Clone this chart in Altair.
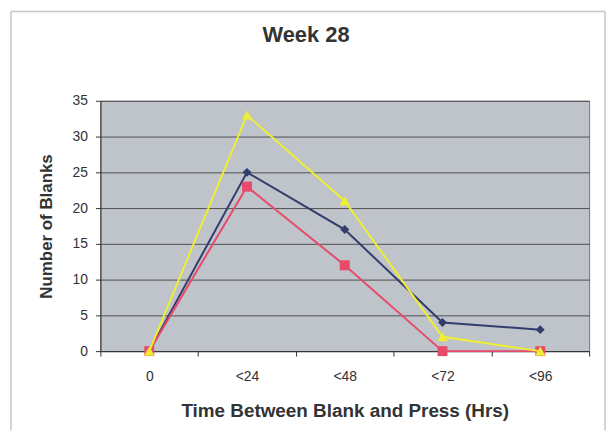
import altair as alt
import pandas as pd

categories = ["0", "<24", "<48", "<72", "<96"]
series_names = ["Series 1", "Series 2", "Series 3"]
series_1 = [0, 25, 17, 4, 3]
series_2 = [0, 23, 12, 0, 0]
series_3 = [0, 33, 21, 2, 0]
y_ticks = [0, 5, 10, 15, 20, 25, 30, 35]

colors = ["#323d6e", "#e84a6b", "#eeee33"]
shapes = ["diamond", "square", "triangle-up"]
sizes = [80, 100, 110]

FONT = "Liberation Sans"
W, H = 492, 252

rows = []
for name, vals in zip(series_names, [series_1, series_2, series_3]):
    for c, v in zip(categories, vals):
        rows.append({"time": c, "blanks": v, "series": name})
df = pd.DataFrame(rows)

x_enc = alt.X(
    "time:N",
    sort=categories,
    scale=alt.Scale(type="band", paddingInner=0, paddingOuter=0),
    axis=alt.Axis(
        title="Time Between Blank and Press (Hrs)",
        labelAngle=0,
        grid=False,
        tickBand="extent",
        tickSize=5,
        tickColor="#333333",
        domainColor="#333333",
        labelFont=FONT,
        labelFontSize=14,
        labelColor="#333333",
        labelPadding=14,
        titleFont=FONT,
        titleFontSize=19,
        titleFontWeight="bold",
        titleColor="#333333",
        titleX=W / 2,
        titleY=60,
        titleBaseline="middle",
    ),
)
y_enc = alt.Y(
    "blanks:Q",
    scale=alt.Scale(domain=[0, 35], nice=False),
    axis=alt.Axis(
        title="Number of Blanks",
        values=y_ticks,
        grid=True,
        gridColor="#505050",
        gridWidth=1,
        tickSize=5,
        tickColor="#333333",
        domainColor="#333333",
        labelFont=FONT,
        labelFontSize=14,
        labelColor="#333333",
        labelPadding=8,
        titleFont=FONT,
        titleFontSize=17,
        titleFontWeight="bold",
        titleColor="#333333",
        titleX=-54,
        titleY=H / 2,
        titleBaseline="middle",
    ),
)

layers = []
# outer frame (left, top, right edges)
frame_df = pd.DataFrame({"k": [0]})
layers.append(alt.Chart(frame_df).mark_rule(color="#c4c4c4", strokeWidth=1.5).encode(
    x=alt.value(-90), x2=alt.value(-90), y=alt.value(-90), y2=alt.value(H + 80)))
layers.append(alt.Chart(frame_df).mark_rule(color="#c4c4c4", strokeWidth=1.5).encode(
    x=alt.value(-90), x2=alt.value(508), y=alt.value(-90), y2=alt.value(-90)))
layers.append(alt.Chart(frame_df).mark_rule(color="#c4c4c4", strokeWidth=1.5).encode(
    x=alt.value(508), x2=alt.value(508), y=alt.value(-90), y2=alt.value(H + 80)))

for name, col, shp, sz in zip(series_names, colors, shapes, sizes):
    sub = df[df["series"] == name]
    base = alt.Chart(sub)
    layers.append(base.mark_line(color=col, strokeWidth=2).encode(x=x_enc, y=y_enc))
    layers.append(base.mark_point(color=col, shape=shp, size=sz, filled=True, opacity=1).encode(x=x_enc, y=y_enc))

chart = alt.layer(*layers).properties(
    width=W,
    height=H,
    title=alt.TitleParams(
        "Week 28",
        font=FONT,
        fontSize=22,
        fontWeight="bold",
        color="#333333",
        anchor="middle",
        baseline="middle",
        offset=-47,
        dx=-39,
    ),
    autosize=alt.AutoSizeParams(type="none"),
    padding={"left": 93, "top": 92, "right": 18, "bottom": 80},
).configure(
    background="white"
).configure_view(
    fill="#bfc3ca", stroke="#777777", strokeWidth=1
)

chart.save("out.html", embed_options={"renderer": "svg", "actions": False})
